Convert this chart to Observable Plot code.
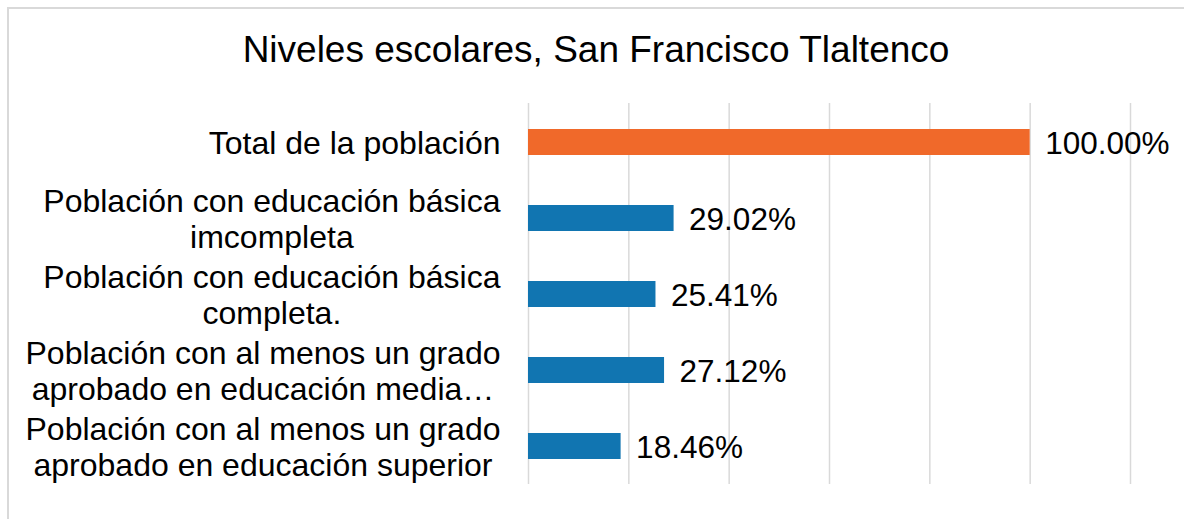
<!DOCTYPE html>
<html>
<head>
<meta charset="utf-8">
<script src="https://cdn.jsdelivr.net/npm/d3@7"></script>
<script src="https://cdn.jsdelivr.net/npm/@observablehq/plot@0.6"></script>
<style>
  html, body { margin: 0; padding: 0; background: #fff; overflow: hidden; }
  body { width: 1184px; height: 519px; position: relative; font-family: "Liberation Sans", Arial, sans-serif; }
  #frame { position: absolute; left: 7px; top: 7px; width: 1190px; height: 600px; border: 2px solid #d9d9d9; box-sizing: border-box; }
  #title { position: absolute; left: 7px; width: 1178px; top: 29px; height: 42px; line-height: 42px; font-size: 37px; text-align: center; color: #000; }
  #chart { position: absolute; left: 0; top: 71px; }
</style>
</head>
<body>
<div id="frame"></div>
<div id="title">Niveles escolares, San Francisco Tlaltenco</div>
<div id="chart"></div>
<script>
const categories = [
  "Total de la población",
  "Población con educación básica\nimcompleta",
  "Población con educación básica\ncompleta.",
  "Población con al menos un grado\naprobado en educación media…",
  "Población con al menos un grado\naprobado en educación superior"
];
const values = [100.00, 29.02, 25.41, 27.12, 18.46];
const valueLabels = ["100.00%", "29.02%", "25.41%", "27.12%", "18.46%"];
const xTicks = [0, 20, 40, 60, 80, 100, 120];

const data = categories.map((c, i) => ({cat: c, value: values[i], label: valueLabels[i], total: i === 0}));

const FONT = "Liberation Sans, Arial, sans-serif";
const labelSize = 32;
const ctx = document.createElement("canvas").getContext("2d");
ctx.font = `${labelSize}px "Liberation Sans"`;
const blockWidth = c => Math.max(...c.split("\n").map(l => ctx.measureText(l).width));

const catMarks = categories.map(c => Plot.text([c], {
  frameAnchor: "left",
  y: d => d,
  text: d => d,
  textAnchor: "middle",
  lineAnchor: "middle",
  lineHeight: 1.12,
  dx: -(28 + blockWidth(c) / 2),
  fontSize: labelSize,
  fill: "#000"
}));

const chart = Plot.plot({
  width: 1184,
  height: 448,
  marginTop: 32,
  marginBottom: 35,
  marginLeft: 528,
  marginRight: 54,
  style: {fontFamily: FONT, background: "transparent"},
  x: {domain: [0, 120], axis: null},
  y: {domain: categories, axis: null, paddingInner: 0.66, paddingOuter: 0.33},
  marks: [
    Plot.ruleX(xTicks, {stroke: "#d9d9d9", strokeWidth: 1.5}),
    Plot.barX(data, {x: "value", y: "cat", fill: d => d.total ? "#f0692a" : "#1175b1"}),
    Plot.text(data, {x: "value", y: "cat", text: "label", textAnchor: "start", dx: 15, dy: 1, fontSize: 31.5, fill: "#000"}),
    ...catMarks
  ]
});
document.getElementById("chart").appendChild(chart);
</script>
</body>
</html>
